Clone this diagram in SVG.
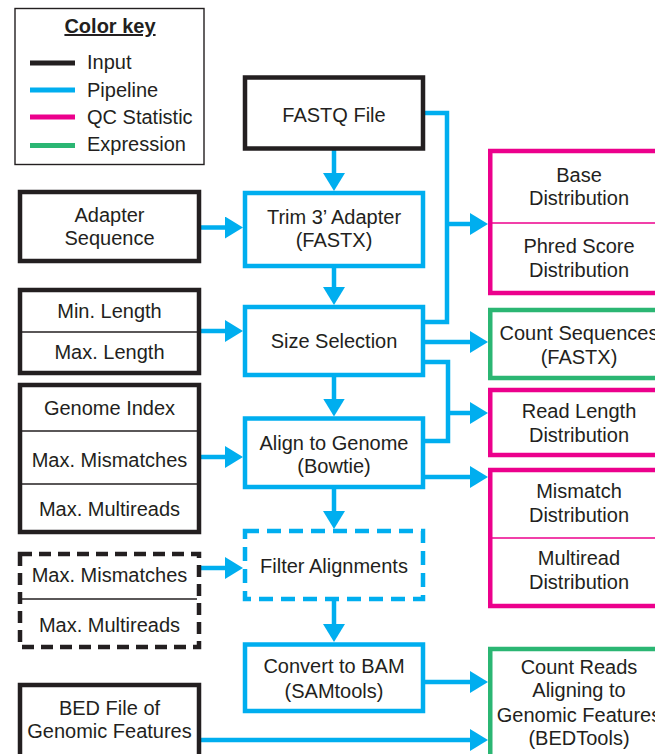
<svg xmlns="http://www.w3.org/2000/svg" width="655" height="754" viewBox="0 0 655 754">
  <defs>
    <marker id="ah" markerUnits="userSpaceOnUse" markerWidth="18" markerHeight="22" refX="8" refY="11" orient="auto">
      <path d="M0,0 L18,11 L0,22 Z" fill="#00AEEF"/>
    </marker>
    <style>
      .t{font-family:"Liberation Sans",Arial,Helvetica,sans-serif;font-size:20px;fill:#231F20;text-anchor:middle}
      .lt{font-family:"Liberation Sans",Arial,Helvetica,sans-serif;font-size:20px;fill:#231F20}
      .in{fill:#fff;stroke:#231F20;stroke-width:4.5}
      .pl{fill:#fff;stroke:#00AEEF;stroke-width:4.5}
      .qc{fill:#fff;stroke:#EC008C;stroke-width:4.5}
      .ex{fill:#fff;stroke:#2BB673;stroke-width:4.5}
      .dash-in{stroke-dasharray:12 7}
      .dash-pl{stroke-dasharray:14 8}
      .div-in{stroke:#231F20;stroke-width:1.3}
      .div-qc{stroke:#EC008C;stroke-width:1.3}
      .c{fill:none;stroke:#00AEEF;stroke-width:4.5}
      .ca{marker-end:url(#ah)}
      .key{stroke-width:5}
    </style>
  </defs>

  <rect x="0" y="0" width="655" height="754" fill="#fff"/>

  <!-- legend -->
  <g id="color-key">
    <rect x="15" y="8.5" width="189" height="156" fill="#fff" stroke="#231F20" stroke-width="1.4"/>
    <text x="110" y="33" class="t" font-weight="bold" text-decoration="underline">Color key</text>
    <line x1="30" y1="63" x2="75" y2="63" class="key" stroke="#231F20"/>
    <line x1="30" y1="90" x2="75" y2="90" class="key" stroke="#00AEEF"/>
    <line x1="30" y1="117" x2="75" y2="117" class="key" stroke="#EC008C"/>
    <line x1="30" y1="145.5" x2="75" y2="145.5" class="key" stroke="#2BB673"/>
    <text x="87" y="68.5" class="lt">Input</text>
    <text x="87" y="96.5" class="lt">Pipeline</text>
    <text x="87" y="123.5" class="lt">QC Statistic</text>
    <text x="87" y="151" class="lt">Expression</text>
  </g>

  <!-- connectors -->
  <g id="connectors">
    <path class="c ca" d="M334,148 V181"/>
    <path class="c ca" d="M199,227.5 H233"/>
    <path class="c ca" d="M334,266 V295"/>
    <path class="c ca" d="M199,331 H233"/>
    <path class="c ca" d="M334,375 V406.5"/>
    <path class="c ca" d="M199,457 H233"/>
    <path class="c ca" d="M334,487 V519"/>
    <path class="c ca" d="M199,568 H233"/>
    <path class="c ca" d="M334,599 V632"/>
    <path class="c ca" d="M423,682 H478"/>
    <path class="c ca" d="M199,740 H478"/>
    <path class="c" d="M423,113 H447 V322 H423"/>
    <path class="c ca" d="M447,224 H478"/>
    <path class="c ca" d="M423,342 H478"/>
    <path class="c" d="M423,362 H448 V441 H423"/>
    <path class="c ca" d="M448,413 H478"/>
    <path class="c ca" d="M423,477 H478"/>
  </g>

  <!-- pipeline column -->
  <g id="fastq-file">
    <rect x="245" y="77.5" width="178" height="71" class="in"/>
    <text x="334" y="122" class="t">FASTQ File</text>
  </g>
  <g id="trim-adapter">
    <rect x="245" y="193" width="178" height="73" class="pl"/>
    <text x="334" y="224" class="t">Trim 3’ Adapter</text>
    <text x="334" y="246.5" class="t">(FASTX)</text>
  </g>
  <g id="size-selection">
    <rect x="245" y="307" width="178" height="68" class="pl"/>
    <text x="334" y="348" class="t">Size Selection</text>
  </g>
  <g id="align-genome">
    <rect x="245" y="418.5" width="178" height="68.5" class="pl"/>
    <text x="334" y="450" class="t">Align to Genome</text>
    <text x="334" y="473" class="t">(Bowtie)</text>
  </g>
  <g id="filter-alignments">
    <rect x="245" y="531" width="178" height="68" class="pl dash-pl"/>
    <text x="334" y="572.5" class="t">Filter Alignments</text>
  </g>
  <g id="convert-bam">
    <rect x="245" y="644.5" width="178" height="66.5" class="pl"/>
    <text x="334" y="673" class="t">Convert to BAM</text>
    <text x="334" y="698" class="t">(SAMtools)</text>
  </g>

  <!-- input column -->
  <g id="adapter-sequence">
    <rect x="20" y="192" width="179" height="69" class="in"/>
    <text x="109.5" y="221.5" class="t">Adapter</text>
    <text x="109.5" y="245" class="t">Sequence</text>
  </g>
  <g id="length-limits">
    <rect x="20" y="290" width="179" height="83" class="in"/>
    <line x1="20" y1="332" x2="199" y2="332" class="div-in"/>
    <text x="109.5" y="317.5" class="t">Min. Length</text>
    <text x="109.5" y="358.5" class="t">Max. Length</text>
  </g>
  <g id="alignment-params">
    <rect x="20" y="385" width="179" height="147" class="in"/>
    <line x1="20" y1="431" x2="199" y2="431" class="div-in"/>
    <line x1="20" y1="484" x2="199" y2="484" class="div-in"/>
    <text x="109.5" y="415" class="t">Genome Index</text>
    <text x="109.5" y="466.5" class="t">Max. Mismatches</text>
    <text x="109.5" y="516" class="t">Max. Multireads</text>
  </g>
  <g id="filter-params">
    <rect x="20" y="554" width="179" height="93" class="in dash-in"/>
    <line x1="20" y1="599" x2="197" y2="599" class="div-in"/>
    <text x="109.5" y="581.5" class="t">Max. Mismatches</text>
    <text x="109.5" y="631.5" class="t">Max. Multireads</text>
  </g>
  <g id="bed-file">
    <rect x="20" y="685" width="179" height="90" class="in"/>
    <text x="109.5" y="715" class="t">BED File of</text>
    <text x="109.5" y="738" class="t">Genomic Features</text>
  </g>

  <!-- output column -->
  <g id="base-phred">
    <rect x="490.25" y="151" width="178" height="142" class="qc"/>
    <line x1="490" y1="223" x2="670" y2="223" class="div-qc"/>
    <text x="579" y="182" class="t">Base</text>
    <text x="579" y="205" class="t">Distribution</text>
    <text x="579" y="253" class="t">Phred Score</text>
    <text x="579" y="276.5" class="t">Distribution</text>
  </g>
  <g id="count-sequences">
    <rect x="490.25" y="310" width="178" height="68" class="ex"/>
    <text x="579" y="340" class="t">Count Sequences</text>
    <text x="579" y="364" class="t">(FASTX)</text>
  </g>
  <g id="read-length">
    <rect x="490.25" y="390" width="178" height="65" class="qc"/>
    <text x="579" y="418" class="t">Read Length</text>
    <text x="579" y="442" class="t">Distribution</text>
  </g>
  <g id="mismatch-multiread">
    <rect x="490.25" y="470" width="178" height="136" class="qc"/>
    <line x1="490" y1="538" x2="670" y2="538" class="div-qc"/>
    <text x="579" y="498" class="t">Mismatch</text>
    <text x="579" y="521.5" class="t">Distribution</text>
    <text x="579" y="565" class="t">Multiread</text>
    <text x="579" y="588.5" class="t">Distribution</text>
  </g>
  <g id="count-reads">
    <rect x="490.25" y="649" width="178" height="130" class="ex"/>
    <text x="579" y="674" class="t">Count Reads</text>
    <text x="579" y="697" class="t">Aligning to</text>
    <text x="579" y="722" class="t">Genomic Features</text>
    <text x="579" y="745" class="t">(BEDTools)</text>
  </g>
</svg>
